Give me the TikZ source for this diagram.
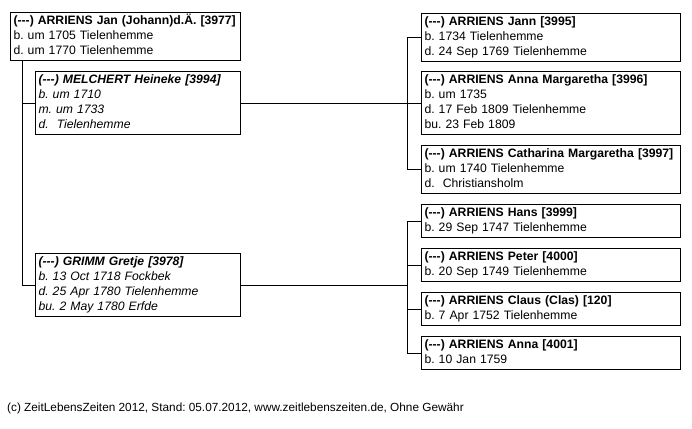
\documentclass[tikz,border=0pt]{standalone}
\usepackage{fontspec}
\setmainfont{Liberation Sans}
\usepackage{tikz}
\usetikzlibrary{positioning}
\frenchspacing
\newcommand{\boxfont}{\fontsize{12.2}{15}\selectfont}
\newcommand{\unk}{(-{}-{}-)}

\begin{document}
\begin{tikzpicture}[x=1pt,y=-1pt]
        \tikzset{Person/.style={draw, line width=1pt, anchor=north west,
          align=left, inner xsep=3pt, inner ysep=1.5pt, font=\boxfont,
          execute at begin node=\strut, execute at end node=\strut}}
        \tikzset{Parent/.style={Person, text width=224pt},
          Spouse/.style={Person, text width=199pt, font=\boxfont\itshape},
          Child/.style={Person, text width=253pt},
          Link/.style={line width=1pt}}
        \useasboundingbox (0,0) rectangle (692,428);
        \node[Parent] (Jan) at (10,12) {\textbf{\unk{} ARRIENS Jan (Johann)d.Ä. [3977]}\\b. um 1705 Tielenhemme\\d. um 1770 Tielenhemme};
        \node[Spouse] (Melchert) at (35,71) {\textbf{\unk{} MELCHERT Heineke [3994]}\\b. um 1710\\m. um 1733\\d.\ \ Tielenhemme};
        \node[Spouse] (Grimm) at (35,253) {\textbf{\unk{} GRIMM Gretje [3978]}\\b. 13 Oct 1718 Fockbek\\d. 25 Apr 1780 Tielenhemme\\bu. 2 May 1780 Erfde};
        \node[Child] (Jann) at (421,13) {\textbf{\unk{} ARRIENS Jann [3995]}\\b. 1734 Tielenhemme\\d. 24 Sep 1769 Tielenhemme};
        \node[Child, below=9pt of Jann.south west, anchor=north west] (AnnaM) {\textbf{\unk{} ARRIENS Anna Margaretha [3996]}\\b. um 1735\\d. 17 Feb 1809 Tielenhemme\\bu. 23 Feb 1809};
        \node[Child, below=10pt of AnnaM.south west, anchor=north west] (Catharina) {\textbf{\unk{} ARRIENS Catharina Margaretha [3997]}\\b. um 1740 Tielenhemme\\d.\ \ Christiansholm};
        \node[Child] (Hans) at (421,204) {\textbf{\unk{} ARRIENS Hans [3999]}\\b. 29 Sep 1747 Tielenhemme};
        \node[Child, below=10pt of Hans.south west, anchor=north west] (Peter) {\textbf{\unk{} ARRIENS Peter [4000]}\\b. 20 Sep 1749 Tielenhemme};
        \node[Child, below=10pt of Peter.south west, anchor=north west] (Claus) {\textbf{\unk{} ARRIENS Claus (Clas) [120]}\\b. 7 Apr 1752 Tielenhemme};
        \node[Child, below=10pt of Claus.south west, anchor=north west] (Anna) {\textbf{\unk{} ARRIENS Anna [4001]}\\b. 10 Jan 1759};
        \node[anchor=base west, inner sep=0pt, font=\fontsize{11.8}{14}\selectfont] (footer) at (7,411) {(c) ZeitLebensZeiten 2012, Stand: 05.07.2012, www.zeitlebenszeiten.de, Ohne Gewähr};
        \coordinate (trunk) at ([xshift=12pt]Jan.south west);
        \coordinate (fork1) at ([xshift=-14pt]Jann.west);
        \coordinate (fork2) at ([xshift=-14pt]Hans.west |- Grimm.east);
        \draw[Link] (trunk) |- (Grimm.west);
        \draw[Link] (trunk |- Melchert.west) -- (Melchert.west);
        \draw[Link] (Melchert.east) -- (fork1 |- Melchert.east);
        \draw[Link] (Jann.west) -- (fork1) |- (Catharina.west);
        \draw[Link] (fork1 |- AnnaM.west) -- (AnnaM.west);
        \draw[Link] (Grimm.east) -- (fork2);
        \draw[Link] (Hans.west) -- ([xshift=-14pt]Hans.west) |- (Anna.west);
        \draw[Link] (fork2 |- Peter.west) -- (Peter.west);
        \draw[Link] (fork2 |- Claus.west) -- (Claus.west);
\end{tikzpicture}
\end{document}
